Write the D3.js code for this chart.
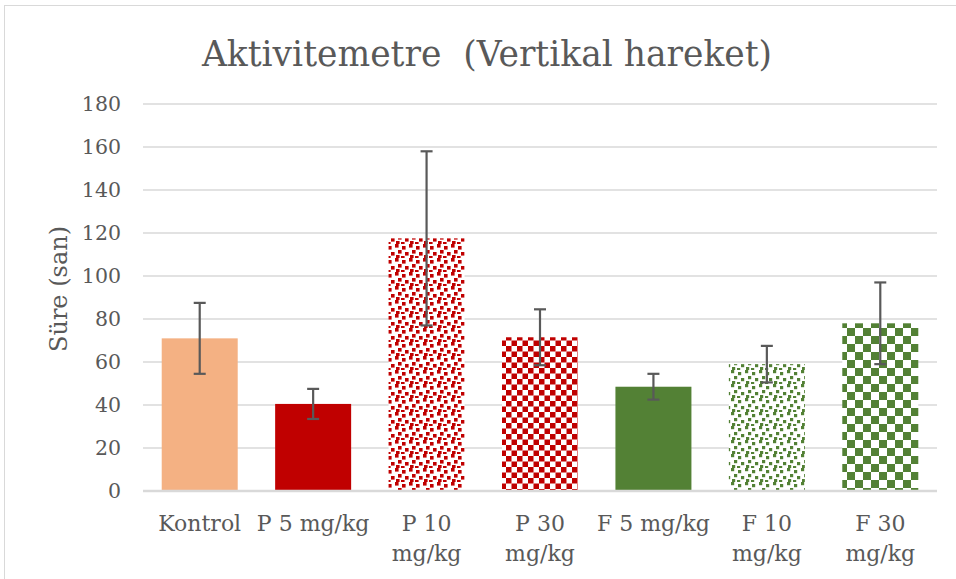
<!DOCTYPE html>
<html>
<head>
<meta charset="utf-8">
<style>
  body { margin: 0; background: #fff; }
  svg { display: block; }
  text { font-family: "DejaVu Serif", "Liberation Serif", serif; fill: #595959; }
</style>
</head>
<body>
<svg width="956" height="579"></svg>
<script src="https://cdn.jsdelivr.net/npm/d3@7/dist/d3.min.js"></script>
<script>

// data
var groups = ["Kontrol", "P 5 mg/kg", "P 10 mg/kg", "P 30 mg/kg", "F 5 mg/kg", "F 10 mg/kg", "F 30 mg/kg"];
var labelLines = [["Kontrol"], ["P 5 mg/kg"], ["P 10", "mg/kg"], ["P 30", "mg/kg"], ["F 5 mg/kg"], ["F 10", "mg/kg"], ["F 30", "mg/kg"]];
var means = [71, 40.5, 117.5, 71.5, 48.5, 59, 78];
var errs = [16.5, 7, 40.5, 13, 6, 8.5, 19];
var fills = ["#F4B183", "#C00000", "url(#confRed)", "url(#checkRed)", "#538135", "url(#confGreen)", "url(#checkGreen)"];
var yTicks = [0, 20, 40, 60, 80, 100, 120, 140, 160, 180];

var svg = d3.select("svg"),
    margin = {top: 104, right: 19, bottom: 88, left: 143},
    width = +svg.attr("width") - margin.left - margin.right,
    height = +svg.attr("height") - margin.top - margin.bottom;

// chart frame
svg.append("rect")
  .attr("x", 4.5).attr("y", 5.5)
  .attr("width", 960).attr("height", 600)
  .attr("fill", "none")
  .attr("stroke", "#d9d9d9");

// patterns
var defs = svg.append("defs");

function confetti(id, color, size, sq, pts) {
  var p = defs.append("pattern")
    .attr("id", id)
    .attr("patternUnits", "userSpaceOnUse")
    .attr("width", size).attr("height", size);
  p.append("rect").attr("width", size).attr("height", size).attr("fill", "#fff");
  pts.forEach(function (d) {
    p.append("rect").attr("x", d[0]).attr("y", d[1])
      .attr("width", sq).attr("height", sq).attr("fill", color);
  });
}
function checker(id, color, cell) {
  var p = defs.append("pattern")
    .attr("id", id)
    .attr("patternUnits", "userSpaceOnUse")
    .attr("width", cell * 2).attr("height", cell * 2);
  p.append("rect").attr("width", cell * 2).attr("height", cell * 2).attr("fill", "#fff");
  p.append("rect").attr("width", cell).attr("height", cell).attr("fill", color);
  p.append("rect").attr("x", cell).attr("y", cell).attr("width", cell).attr("height", cell).attr("fill", color);
}
var confPts = [[0, 0], [7, 2], [3, 6], [10, 8], [1, 11], [6, 12]];
confetti("confRed", "#C00000", 14, 3.6, confPts);
confetti("confGreen", "#538135", 14, 3.2, confPts);
checker("checkRed", "#C00000", 5.5);
checker("checkGreen", "#538135", 8);

var g = svg.append("g").attr("transform", "translate(" + margin.left + "," + margin.top + ")");

var x = d3.scaleBand()
  .domain(groups)
  .range([0, width])
  .paddingInner(0.33)
  .paddingOuter(0.165);

var y = d3.scaleLinear()
  .domain([0, 180])
  .range([height, 0]);

// gridlines
g.selectAll(".grid")
  .data(yTicks.slice(1))
  .enter().append("line")
  .attr("x1", 0).attr("x2", width)
  .attr("y1", function (d) { return y(d); })
  .attr("y2", function (d) { return y(d); })
  .attr("stroke", "#d9d9d9")
  .attr("stroke-width", 1.3);

// y tick labels
var yAxis = g.append("g")
  .call(d3.axisLeft(y).tickValues(yTicks).tickSize(0).tickPadding(22));
yAxis.select(".domain").remove();
yAxis.selectAll("text")
  .attr("fill", "#595959")
  .style("font-size", "20.5px")
  .style("font-family", "'DejaVu Serif', serif");

// bars
g.selectAll(".bar")
  .data(groups)
  .enter().append("rect")
  .attr("class", "bar")
  .attr("x", function (d) { return x(d); })
  .attr("y", function (d, i) { return y(means[i]); })
  .attr("width", x.bandwidth())
  .attr("height", function (d, i) { return height - y(means[i]); })
  .attr("fill", function (d, i) { return fills[i]; });

// x axis line
g.append("line")
  .attr("x1", 0).attr("x2", width)
  .attr("y1", height).attr("y2", height)
  .attr("stroke", "#d9d9d9")
  .attr("stroke-width", 2.5);

// error bars
var eb = g.selectAll(".err")
  .data(groups)
  .enter().append("g")
  .attr("class", "err")
  .attr("stroke", "#595959")
  .attr("stroke-width", 2.2);
eb.append("line")
  .attr("x1", function (d) { return x(d) + x.bandwidth() / 2; })
  .attr("x2", function (d) { return x(d) + x.bandwidth() / 2; })
  .attr("y1", function (d, i) { return y(means[i] + errs[i]); })
  .attr("y2", function (d, i) { return y(means[i] - errs[i]); });
[1, -1].forEach(function (s) {
  eb.append("line")
    .attr("x1", function (d) { return x(d) + x.bandwidth() / 2 - 6; })
    .attr("x2", function (d) { return x(d) + x.bandwidth() / 2 + 6; })
    .attr("y1", function (d, i) { return y(means[i] + s * errs[i]); })
    .attr("y2", function (d, i) { return y(means[i] + s * errs[i]); });
});

// x labels
var xl = g.selectAll(".xlab")
  .data(groups)
  .enter().append("text")
  .attr("class", "xlab")
  .attr("text-anchor", "middle")
  .style("font-size", "22px")
  .attr("transform", function (d) { return "translate(" + (x(d) + x.bandwidth() / 2) + "," + (height + 40) + ")"; });
xl.selectAll("tspan")
  .data(function (d, i) { return labelLines[i]; })
  .enter().append("tspan")
  .attr("x", 0)
  .attr("dy", function (d, i) { return i === 0 ? 0 : 30; })
  .text(function (d) { return d; });

// y axis title
svg.append("text")
  .attr("transform", "translate(67,289) rotate(-90)")
  .attr("text-anchor", "middle")
  .style("font-size", "24px")
  .text("Süre (san)");

// chart title
svg.append("text")
  .attr("x", 487).attr("y", 66)
  .attr("text-anchor", "middle")
  .style("font-size", "34.5px")
  .attr("xml:space", "preserve")
  .text("Aktivitemetre  (Vertikal hareket)");

</script>
</body>
</html>
